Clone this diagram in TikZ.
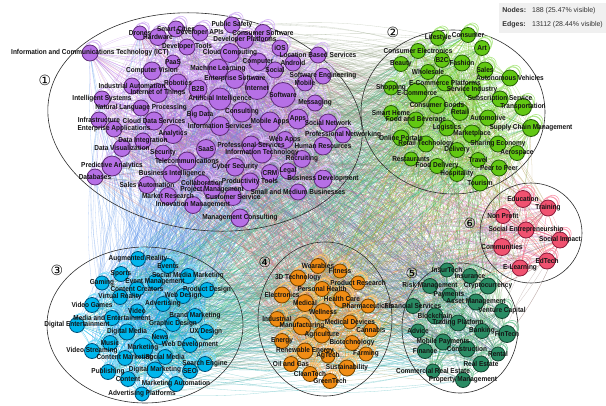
\documentclass[tikz,border=0pt]{standalone}
\usepackage{fontspec}
\setmainfont{Liberation Sans}
\newfontfamily\lblfont[FakeStretch=0.9]{Liberation Sans}
\newfontfamily\numfont{DejaVu Sans}
\usetikzlibrary{calc}

\pgfdeclarelayer{edges}
\pgfdeclarelayer{hulls}
\pgfdeclarelayer{loops}
\pgfdeclarelayer{labels}
\pgfsetlayers{edges,hulls,loops,main,labels}

% community colours: fill, border, loop
\definecolor{c1}{RGB}{182,112,230}\definecolor{d1}{RGB}{95,45,120}\definecolor{h1}{RGB}{215,185,245}
\definecolor{c2}{RGB}{98,200,18}  \definecolor{d2}{RGB}{40,95,10}  \definecolor{h2}{RGB}{175,232,135}
\definecolor{c3}{RGB}{0,182,236}  \definecolor{d3}{RGB}{0,80,120}  \definecolor{h3}{RGB}{125,220,250}
\definecolor{c4}{RGB}{240,140,20} \definecolor{d4}{RGB}{120,70,0}  \definecolor{h4}{RGB}{250,195,115}
\definecolor{c5}{RGB}{42,140,100} \definecolor{d5}{RGB}{20,70,50}  \definecolor{h5}{RGB}{135,205,165}
\definecolor{c6}{RGB}{240,82,112} \definecolor{d6}{RGB}{140,30,60} \definecolor{h6}{RGB}{250,155,175}
\definecolor{boxgray}{RGB}{240,240,240}
\definecolor{hullline}{RGB}{45,45,45}

\tikzset{
  gnode/.style={circle, inner sep=0pt, line width=0.8pt},
  lbl/.style={font=\lblfont\bfseries\fontsize{7.2}{7.2}\selectfont, text=black!92, inner sep=0pt},
  halo/.style={line width=1.1pt},
  halo2/.style={line width=0.6pt},
  edge/.style={line width=0.3pt, opacity=0.4},
  hull/.style={draw=hullline, line width=0.6pt},
  cnum/.style={font=\numfont\fontsize{14}{14}\selectfont, inner sep=0pt},
}

\newcounter{gn}
\newcommand\setstart[1]{\expandafter\xdef\csname gs#1\endcsname{\the\numexpr\value{gn}+1\relax}}
\newcommand\setend[1]{\expandafter\xdef\csname ge#1\endcsname{\arabic{gn}}}
% #1 community, #2 x, #3 y, #4 radius, #5 label
\newcommand\gnode[5]{%
  \stepcounter{gn}%
  \expandafter\xdef\csname gcl\arabic{gn}\endcsname{#1}%
  \node[gnode, fill=c#1, draw=d#1, minimum size={2*#4pt}] (n\arabic{gn}) at (#2,#3) {};
  \begin{pgfonlayer}{loops}
    \draw[halo, draw=h#1] (#2+0.3*#4, #3-0.45*#4) circle[radius={0.95*#4pt}];
    \draw[halo2, draw=h#1] (#2+0.6*#4, #3-0.8*#4) circle[radius={0.8*#4pt}];
  \end{pgfonlayer}
  \begin{pgfonlayer}{labels}
    \node[lbl] (l\arabic{gn}) at (#2,#3) {#5};
  \end{pgfonlayer}
}

\begin{document}
\begin{tikzpicture}[x=1pt, y=-1pt]
\useasboundingbox (0,0) rectangle (606,405);

% ---------- community 1 ----------
\setstart{1}
\gnode{1}{140}{33}{7}{Drones}
\gnode{1}{158}{37}{8.5}{Hardware}
\gnode{1}{176}{29}{8}{Smart Cities}
\gnode{1}{200}{33}{8}{Developer APIs}
\gnode{1}{232}{25}{8}{Public Safety}
\gnode{1}{263}{33}{8.5}{Consumer Software}
\gnode{1}{187}{47}{8}{Developer Tools}
\gnode{1}{245}{40}{8.5}{Developer Platforms}
\gnode{1}{90}{53}{8}{Information and Communications Technology (ICT)}
\gnode{1}{173}{62}{7}{PaaS}
\gnode{1}{230}{53}{9.5}{Cloud Computing}
\gnode{1}{280}{48}{8}{iOS}
\gnode{1}{318}{55}{8}{Location Based Services}
\gnode{1}{258}{62}{9}{Computer}
\gnode{1}{293}{63}{8}{Android}
\gnode{1}{152}{71}{9}{Computer Vision}
\gnode{1}{218}{69}{10}{Machine Learning}
\gnode{1}{275}{70}{8}{Social}
\gnode{1}{323}{76}{8}{Software Engineering}
\gnode{1}{235}{79}{9.5}{Enterprise Software}
\gnode{1}{305}{83}{8}{Mobile}
\gnode{1}{132}{86}{8}{Industrial Automation}
\gnode{1}{178}{83}{9}{Robotics}
\gnode{1}{158}{93}{9.5}{Internet of Things}
\gnode{1}{198}{89}{9}{B2B}
\gnode{1}{257}{88}{11.5}{Internet}
\gnode{1}{283}{95}{12.5}{Software}
\gnode{1}{102}{99}{8}{Intelligent Systems}
\gnode{1}{220}{99}{11}{Artificial Intelligence}
\gnode{1}{141}{108}{8}{Natural Language Processing}
\gnode{1}{315}{103}{8}{Messaging}
\gnode{1}{200}{115}{10}{Big Data}
\gnode{1}{242}{112}{10}{Consulting}
\gnode{1}{99}{120}{8}{Infrastructure}
\gnode{1}{154}{121}{9}{Cloud Data Services}
\gnode{1}{270}{122}{10}{Mobile Apps}
\gnode{1}{298}{119}{10}{Apps}
\gnode{1}{328}{123}{9}{Social Network}
\gnode{1}{114}{129}{8}{Enterprise Applications}
\gnode{1}{220}{126}{9.5}{Information Services}
\gnode{1}{173}{134}{9.5}{Analytics}
\gnode{1}{343}{135}{8}{Professional Networking}
\gnode{1}{143}{141}{8}{Data Integration}
\gnode{1}{285}{140}{8.5}{Web Apps}
\gnode{1}{251}{145}{9}{Professional Services}
\gnode{1}{122}{148}{8.5}{Data Visualization}
\gnode{1}{206}{149}{9.5}{SaaS}
\gnode{1}{323}{146}{9}{Human Resources}
\gnode{1}{262}{153}{10}{Information Technology}
\gnode{1}{163}{153}{8}{Security}
\gnode{1}{187}{161}{9}{Telecommunications}
\gnode{1}{302}{159}{8.5}{Recruiting}
\gnode{1}{112}{166}{10}{Predictive Analytics}
\gnode{1}{235}{167}{9}{Cyber Security}
\gnode{1}{270}{173}{8.5}{CRM}
\gnode{1}{288}{171}{8}{Legal}
\gnode{1}{172}{174}{9}{Business Intelligence}
\gnode{1}{95}{177}{8}{Databases}
\gnode{1}{323}{179}{9}{Business Development}
\gnode{1}{202}{183}{8}{Collaboration}
\gnode{1}{250}{182}{9}{Productivity Tools}
\gnode{1}{147}{185}{8.5}{Sales Automation}
\gnode{1}{212}{190}{8.5}{Project Management}
\gnode{1}{298}{192}{8}{Small and Medium Businesses}
\gnode{1}{168}{196}{8.5}{Market Research}
\gnode{1}{233}{197}{8.5}{Customer Service}
\gnode{1}{193}{205}{8.5}{Innovation Management}
\gnode{1}{240}{218}{9}{Management Consulting}
\setend{1}

% ---------- community 2 ----------
\setstart{2}
\gnode{2}{438}{38}{7.5}{Lifestyle}
\gnode{2}{468}{35}{7.5}{Consumer}
\gnode{2}{482}{48}{7.5}{Art}
\gnode{2}{418}{51}{7.5}{Consumer Electronics}
\gnode{2}{442}{60}{7.5}{B2C}
\gnode{2}{401}{64}{7.5}{Beauty}
\gnode{2}{462}{63}{8}{Fashion}
\gnode{2}{428}{72}{7.5}{Wholesale}
\gnode{2}{485}{70}{8}{Sales}
\gnode{2}{510}{78}{8}{Autonomous Vehicles}
\gnode{2}{445}{83}{8}{E-Commerce Platforms}
\gnode{2}{391}{88}{7}{Shopping}
\gnode{2}{472}{90}{8}{Service Industry}
\gnode{2}{417}{93}{10}{E-Commerce}
\gnode{2}{500}{99}{8}{Subscription Service}
\gnode{2}{391}{113}{7.5}{Smart Home}
\gnode{2}{437}{105}{8.5}{Consumer Goods}
\gnode{2}{523}{107}{8.5}{Transportation}
\gnode{2}{460}{112}{8.5}{Retail}
\gnode{2}{488}{118}{8}{Automotive}
\gnode{2}{416}{120}{8}{Food and Beverage}
\gnode{2}{447}{128}{8}{Logistics}
\gnode{2}{531}{128}{8.5}{Supply Chain Management}
\gnode{2}{472}{134}{9}{Marketplace}
\gnode{2}{401}{138}{8}{Online Portals}
\gnode{2}{426}{144}{8}{Retail Technology}
\gnode{2}{498}{144}{8}{Sharing Economy}
\gnode{2}{457}{150}{7.5}{Delivery}
\gnode{2}{517}{153}{7.5}{Aerospace}
\gnode{2}{478}{160}{7.5}{Travel}
\gnode{2}{411}{159}{7}{Restaurants}
\gnode{2}{437}{166}{7.5}{Food Delivery}
\gnode{2}{499}{168}{8}{Peer to Peer}
\gnode{2}{457}{174}{7.5}{Hospitality}
\gnode{2}{480}{183}{8}{Tourism}
\setend{2}

% ---------- community 3 ----------
\setstart{3}
\gnode{3}{138}{259}{7.5}{Augmented Reality}
\gnode{3}{168}{266}{7.5}{Events}
\gnode{3}{121}{274}{7.5}{Sports}
\gnode{3}{188}{276}{7.5}{Social Media Marketing}
\gnode{3}{102}{283}{7}{Gaming}
\gnode{3}{155}{282}{7.5}{Event Management}
\gnode{3}{137}{289}{7.5}{Content Creators}
\gnode{3}{207}{290}{7.5}{Product Design}
\gnode{3}{120}{297}{7.5}{Virtual Reality}
\gnode{3}{183}{296}{7.5}{Web Design}
\gnode{3}{92}{305}{7.5}{Video Games}
\gnode{3}{163}{304}{7.5}{Advertising}
\gnode{3}{137}{311}{7}{Video}
\gnode{3}{195}{316}{7.5}{Brand Marketing}
\gnode{3}{112}{318}{7.5}{Media and Entertainment}
\gnode{3}{77}{325}{7.5}{Digital Entertainment}
\gnode{3}{173}{324}{7.5}{Graphic Design}
\gnode{3}{206}{332}{7.5}{UX Design}
\gnode{3}{127}{332}{8}{Digital Media}
\gnode{3}{160}{337}{7.5}{News}
\gnode{3}{110}{343}{7.5}{Music}
\gnode{3}{190}{345}{7.5}{Web Development}
\gnode{3}{143}{348}{10}{Marketing}
\gnode{3}{92}{351}{7.5}{Video Streaming}
\gnode{3}{165}{357}{7.5}{Social Media}
\gnode{3}{125}{358}{7.5}{Content Marketing}
\gnode{3}{205}{364}{7.5}{Search Engine}
\gnode{3}{108}{372}{7.5}{Publishing}
\gnode{3}{155}{370}{8}{Digital Marketing}
\gnode{3}{190}{371}{7.5}{SEO}
\gnode{3}{128}{379}{7.5}{Content}
\gnode{3}{176}{384}{7.5}{Marketing Automation}
\gnode{3}{142}{394}{7}{Advertising Platforms}
\setend{3}

% ---------- community 4 ----------
\setstart{4}
\gnode{4}{318}{266}{7.5}{Wearables}
\gnode{4}{340}{271}{7}{Fitness}
\gnode{4}{298}{278}{8}{3D Technology}
\gnode{4}{358}{283}{7}{Product Research}
\gnode{4}{322}{289}{7.5}{Personal Health}
\gnode{4}{282}{295}{8}{Electronics}
\gnode{4}{342}{299}{8.5}{Health Care}
\gnode{4}{305}{303}{8.5}{Medical}
\gnode{4}{368}{306}{7}{Pharmaceuticals}
\gnode{4}{323}{312}{8.5}{Wellness}
\gnode{4}{277}{319}{7.5}{Industrial}
\gnode{4}{350}{322}{7}{Medical Devices}
\gnode{4}{302}{326}{9}{Manufacturing}
\gnode{4}{371}{330}{7}{Cannabis}
\gnode{4}{322}{335}{8}{Agriculture}
\gnode{4}{282}{341}{7.5}{Energy}
\gnode{4}{352}{343}{7.5}{Biotechnology}
\gnode{4}{305}{351}{8}{Renewable Energy}
\gnode{4}{366}{354}{7}{Farming}
\gnode{4}{328}{356}{7}{AgTech}
\gnode{4}{291}{364}{7.5}{Oil and Gas}
\gnode{4}{347}{368}{8}{Sustainability}
\gnode{4}{310}{374}{7.5}{CleanTech}
\gnode{4}{330}{381}{7.5}{GreenTech}
\setend{4}

% ---------- community 5 ----------
\setstart{5}
\gnode{5}{447}{270}{7}{InsurTech}
\gnode{5}{470}{276}{7.5}{Insurance}
\gnode{5}{488}{286}{8}{Cryptocurrency}
\gnode{5}{430}{286}{7.5}{Risk Management}
\gnode{5}{449}{295}{7}{Payments}
\gnode{5}{476}{302}{8}{Asset Management}
\gnode{5}{413}{306}{7.5}{Financial Services}
\gnode{5}{502}{311}{7.5}{Venture Capital}
\gnode{5}{435}{316}{8}{Blockchain}
\gnode{5}{458}{323}{8}{Trading Platform}
\gnode{5}{482}{331}{7.5}{Banking}
\gnode{5}{507}{334}{8.5}{FinTech}
\gnode{5}{418}{331}{7}{Advice}
\gnode{5}{443}{342}{8}{Mobile Payments}
\gnode{5}{467}{349}{8}{Construction}
\gnode{5}{425}{351}{7.5}{Finance}
\gnode{5}{498}{354}{7}{Rental}
\gnode{5}{481}{364}{8}{Real Estate}
\gnode{5}{433}{371}{7}{Commercial Real Estate}
\gnode{5}{463}{380}{7.5}{Property Management}
\setend{5}

% ---------- community 6 ----------
\setstart{6}
\gnode{6}{523}{199}{8.5}{Education}
\gnode{6}{548}{208}{8}{Training}
\gnode{6}{503}{216}{7.5}{Non Profit}
\gnode{6}{526}{230}{8}{Social Entrepreneurship}
\gnode{6}{560}{240}{8}{Social Impact}
\gnode{6}{502}{247}{8.5}{Communities}
\gnode{6}{547}{261}{8}{EdTech}
\gnode{6}{520}{268}{8}{E-Learning}
\setend{6}

% ---------- edges between the named nodes ----------
\begin{pgfonlayer}{edges}
\pgfmathsetseed{4242}
\foreach \e in {1,...,4600}{
  \pgfmathrandominteger{\ea}{1}{\arabic{gn}}
  \edef\ca{\csname gcl\ea\endcsname}
  \edef\lo{\csname gs\ca\endcsname}
  \edef\hi{\csname ge\ca\endcsname}
  \pgfmathrandominteger{\pp}{1}{100}
  \ifnum\pp<40
    \pgfmathrandominteger{\eb}{\lo}{\hi}
  \else
    \pgfmathrandominteger{\eb}{1}{\arabic{gn}}
  \fi
  \edef\cb{\csname gcl\eb\endcsname}
  \ifnum\ea=\eb\else
    \draw[edge, draw=c\ca!50!c\cb] (n\ea.center) to[bend left=12] (n\eb.center);
  \fi
}
\end{pgfonlayer}

% ---------- community outlines ----------
\begin{pgfonlayer}{hulls}
\draw[hull] (205,122) ellipse[x radius=158pt, y radius=108pt, rotate=-8];
\draw[hull] (453,112) ellipse[x radius=92pt, y radius=82pt];
\draw[hull] (145,325) ellipse[x radius=98pt, y radius=78pt];
\draw[hull] (325,319) ellipse[x radius=67pt, y radius=77pt];
\draw[hull] (460,328) ellipse[x radius=58pt, y radius=65pt];
\draw[hull] (531,233) ellipse[x radius=51pt, y radius=50pt];
\end{pgfonlayer}

% ---------- community numbers ----------
\begin{pgfonlayer}{labels}
\node[cnum] (k1) at (45,80) {①};
\node[cnum] (k2) at (393,32) {②};
\node[cnum] (k3) at (57,270) {③};
\node[cnum] (k4) at (265,262) {④};
\node[cnum] (k5) at (412,273) {⑤};
\node[cnum] (k6) at (470,223) {⑥};

% ---------- statistics box ----------
\node[fill=boxgray, anchor=north east, inner xsep=3pt, inner ysep=4pt,
      font=\fontsize{7}{7}\selectfont, text=black!80] (stats) at (606,3)
  {\begin{tabular}{@{}l@{\hspace{6pt}}l@{}}
   \textbf{Nodes:} & 188 (25.47\% visible)\\[7pt]
   \textbf{Edges:} & 13112 (28.44\% visible)
   \end{tabular}};
\end{pgfonlayer}
\end{tikzpicture}
\end{document}
